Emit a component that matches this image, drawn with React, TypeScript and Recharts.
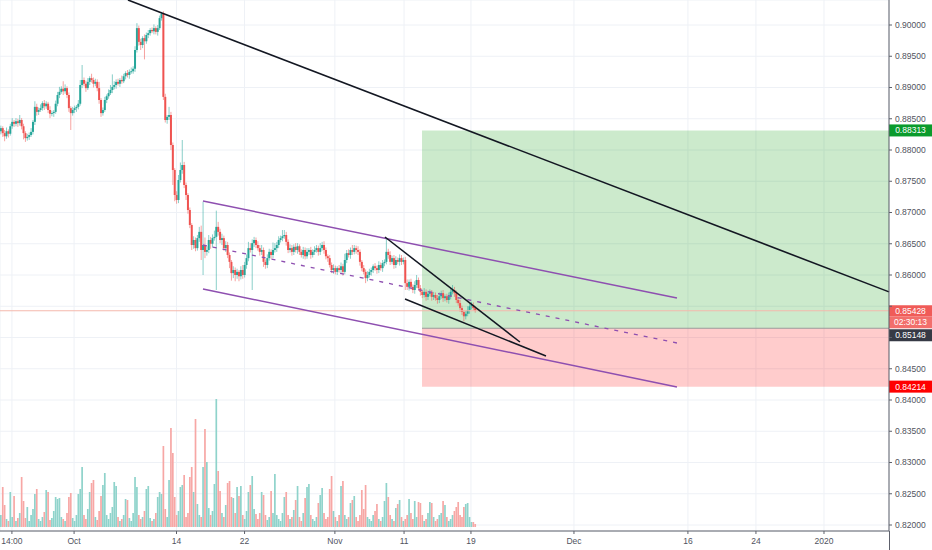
import React from 'react';
import { ComposedChart, Bar, XAxis, YAxis, CartesianGrid, ReferenceLine, ReferenceArea, Cell } from 'recharts';

// ---- data (4h candles, EURGBP-like) ----
const firstOpen = 0.883;
const closes = [
  0.8835, 0.8827, 0.8822, 0.8830, 0.8826, 0.8838, 0.8845, 0.8842, 0.8846, 0.8843,
  0.8848, 0.8838, 0.8827, 0.8819, 0.8821, 0.8824, 0.8829, 0.8845, 0.8869, 0.8861,
  0.8864, 0.8867, 0.8875, 0.8870, 0.8874, 0.8864, 0.8858, 0.8859, 0.8861, 0.8874,
  0.8888, 0.8893, 0.8898, 0.8894, 0.8899, 0.8888, 0.8867, 0.8859, 0.8864, 0.8867,
  0.8869, 0.8874, 0.8904, 0.8912, 0.8906, 0.8899, 0.8909, 0.8915, 0.8912, 0.8906,
  0.8909, 0.8899, 0.8880, 0.8859, 0.8864, 0.8880, 0.8886, 0.8891, 0.8896, 0.8901,
  0.8904, 0.8909, 0.8906, 0.8912, 0.8910, 0.8918, 0.8923, 0.8920, 0.8925, 0.8926,
  0.8930, 0.8960, 0.8995, 0.8973, 0.8968, 0.8979, 0.8974, 0.8984, 0.8987, 0.8992,
  0.8990, 0.8995, 0.8989, 0.8995, 0.9011, 0.9018, 0.8885, 0.8848, 0.8853, 0.8856,
  0.8808, 0.8768, 0.8728, 0.8720, 0.8752, 0.8768, 0.8776, 0.8744, 0.8728, 0.8704,
  0.8680, 0.8648, 0.8656, 0.8643, 0.8659, 0.8669, 0.8640, 0.8648, 0.8637, 0.8640,
  0.8656, 0.8650, 0.8659, 0.8661, 0.8677, 0.8669, 0.8656, 0.8659, 0.8643, 0.8648,
  0.8632, 0.8621, 0.8603, 0.8608, 0.8600, 0.8605, 0.8598, 0.8608, 0.8600, 0.8616,
  0.8627, 0.8643, 0.8640, 0.8651, 0.8656, 0.8648, 0.8643, 0.8637, 0.8640, 0.8621,
  0.8616, 0.8627, 0.8637, 0.8632, 0.8640, 0.8643, 0.8648, 0.8656, 0.8659, 0.8662,
  0.8664, 0.8653, 0.8640, 0.8643, 0.8637, 0.8645, 0.8640, 0.8646, 0.8637, 0.8632,
  0.8640, 0.8630, 0.8637, 0.8640, 0.8632, 0.8637, 0.8640, 0.8643, 0.8637, 0.8643,
  0.8648, 0.8640, 0.8630, 0.8627, 0.8616, 0.8608, 0.8611, 0.8605, 0.8611, 0.8608,
  0.8614, 0.8605, 0.8624, 0.8635, 0.8632, 0.8640, 0.8637, 0.8643, 0.8640, 0.8637,
  0.8621, 0.8611, 0.8605, 0.8595, 0.8600, 0.8605, 0.8608, 0.8614, 0.8611, 0.8608,
  0.8616, 0.8611, 0.8619, 0.8621, 0.8637, 0.8632, 0.8621, 0.8627, 0.8616, 0.8624,
  0.8621, 0.8627, 0.8621, 0.8624, 0.8587, 0.8581, 0.8589, 0.8581, 0.8576, 0.8584,
  0.8592, 0.8579, 0.8573, 0.8568, 0.8573, 0.8565, 0.8570, 0.8573, 0.8565, 0.8568,
  0.8563, 0.8560, 0.8566, 0.8571, 0.8563, 0.8566, 0.8560, 0.8566, 0.8573, 0.8576,
  0.8571, 0.8560, 0.8555, 0.8547, 0.8541, 0.8534, 0.8538, 0.8544, 0.8550, 0.8552,
  0.8547, 0.85428,
];
// wick lengths in pips above / below the candle body
const upperWicks = [
  4, 3, 5, 6, 3, 4, 6, 3, 5, 4, 8, 3, 4, 3, 5, 4, 6, 3, 9, 5,
  4, 6, 3, 5, 4, 3, 6, 4, 3, 5, 5, 8, 4, 12, 6, 3, 4, 3, 5, 4,
  3, 6, 8, 24, 4, 5, 6, 3, 7, 4, 5, 4, 10, 3, 4, 5, 3, 6, 8, 20,
  6, 4, 5, 3, 7, 4, 3, 5, 4, 6, 4, 6, 8, 4, 5, 3, 6, 4, 5, 3,
  4, 6, 3, 5, 4, 3, 4, 5, 3, 13, 5, 4, 3, 6, 8, 12, 40, 5, 4, 3,
  4, 3, 6, 4, 5, 8, 10, 69, 12, 6, 8, 5, 6, 10, 26, 8, 5, 7, 4, 6,
  5, 4, 3, 6, 4, 5, 3, 6, 8, 5, 6, 10, 8, 6, 5, 4, 6, 5, 8, 4,
  4, 6, 5, 4, 12, 8, 5, 6, 4, 10, 8, 5, 4, 6, 5, 4, 6, 5, 3, 4,
  5, 4, 6, 3, 5, 4, 6, 5, 4, 8, 5, 6, 4, 3, 5, 4, 6, 4, 3, 5,
  6, 4, 10, 5, 6, 4, 8, 5, 4, 6, 4, 3, 5, 4, 6, 5, 4, 3, 5, 4,
  6, 4, 5, 4, 22, 5, 6, 4, 5, 6, 4, 6, 5, 4, 5, 6, 4, 5, 4, 6,
  8, 4, 5, 3, 6, 4, 5, 4, 3, 5, 4, 5, 6, 4, 5, 3, 4, 6, 5, 8,
  5, 4, 3, 5, 4, 3, 5, 6, 4, 5, 4, 3,
];
const lowerWicks = [
  5, 6, 8, 4, 6, 3, 4, 5, 4, 6, 4, 5, 10, 6, 4, 5, 3, 4, 5, 6,
  5, 3, 4, 6, 4, 5, 7, 4, 6, 3, 4, 5, 3, 6, 4, 5, 6, 27, 4, 5,
  6, 4, 3, 5, 4, 6, 3, 5, 4, 6, 4, 5, 6, 6, 4, 3, 5, 4, 3, 5,
  4, 6, 3, 5, 4, 3, 5, 4, 6, 3, 4, 5, 4, 6, 8, 5, 29, 4, 5, 4,
  3, 5, 4, 6, 3, 4, 5, 4, 6, 5, 8, 24, 10, 6, 5, 4, 6, 5, 8, 6,
  5, 8, 6, 5, 4, 6, 16, 40, 10, 6, 5, 8, 6, 4, 85, 6, 5, 8, 4, 6,
  5, 10, 12, 8, 10, 6, 8, 5, 6, 4, 6, 5, 4, 64, 6, 5, 4, 6, 5, 8,
  6, 5, 4, 6, 5, 4, 6, 5, 4, 5, 4, 6, 5, 4, 6, 5, 4, 6, 5, 4,
  6, 5, 4, 5, 6, 4, 5, 4, 6, 5, 4, 6, 5, 6, 4, 5, 6, 4, 5, 4,
  5, 6, 4, 5, 4, 6, 5, 4, 6, 5, 6, 5, 4, 8, 5, 4, 6, 5, 4, 6,
  5, 4, 6, 5, 4, 6, 5, 4, 6, 5, 4, 6, 5, 4, 11, 5, 6, 4, 5, 6,
  5, 4, 6, 5, 4, 6, 5, 4, 6, 5, 4, 6, 5, 4, 6, 5, 4, 6, 5, 4,
  6, 5, 4, 6, 5, 8, 5, 4, 6, 5, 4, 3,
];
const volumes = [
  12, 40, 22, 8, 6, 35, 10, 31, 6, 9, 14, 50, 26, 9, 20, 6, 12, 18, 33, 38,
  8, 6, 10, 15, 37, 35, 7, 9, 16, 30, 28, 29, 10, 8, 6, 14, 30, 34, 9, 6,
  12, 33, 38, 60, 12, 8, 18, 35, 44, 47, 10, 7, 16, 31, 42, 54, 12, 8, 14, 20,
  45, 41, 10, 6, 8, 12, 28, 27, 9, 6, 14, 50, 40, 12, 8, 10, 16, 38, 41, 9,
  6, 8, 14, 30, 35, 33, 81, 18, 10, 47, 99, 74, 30, 12, 16, 40, 42, 52, 10, 14,
  50, 60, 35, 108, 23, 12, 10, 60, 98, 65, 19, 12, 16, 43, 128, 56, 36, 14, 10, 22,
  44, 46, 30, 29, 14, 40, 31, 41, 12, 8, 16, 35, 42, 51, 18, 13, 8, 14, 35, 32,
  12, 7, 10, 36, 14, 53, 12, 8, 6, 14, 30, 35, 12, 8, 10, 17, 27, 41, 10, 6,
  14, 29, 40, 43, 12, 8, 6, 10, 24, 32, 39, 14, 8, 10, 38, 51, 16, 10, 6, 12,
  41, 46, 12, 8, 10, 24, 27, 31, 10, 6, 12, 37, 18, 42, 10, 8, 6, 12, 16, 23,
  8, 6, 10, 26, 44, 30, 12, 8, 6, 19, 23, 27, 10, 6, 8, 12, 28, 14, 8, 26,
  10, 25, 24, 12, 6, 8, 14, 25, 24, 10, 6, 8, 12, 14, 26, 22, 10, 6, 8, 12,
  16, 20, 25, 12, 10, 20, 23, 24, 10, 5, 5, 3,
];
const xTickValues = [6.3, 39.2, 93.4, 129.4, 177.2, 213.8, 249.2, 303.7, 364, 400, 436];
const xTickLabels = ['14:00', 'Oct', '14', '22', 'Nov', '11', '19', 'Dec', '16', '24', '2020'];
const priceTicks = [0.82, 0.825, 0.83, 0.835, 0.84, 0.845, 0.85, 0.855, 0.86, 0.865, 0.87, 0.875, 0.88, 0.885, 0.89, 0.895, 0.9];

// drawings (bar index, price)
const trendLine = [{ x: 67.7, y: 0.904 }, { x: 470.4, y: 0.8573 }];
const channelUpper = [{ x: 107.4, y: 0.87184 }, { x: 358.2, y: 0.85632 }];
const channelMid = [{ x: 107.4, y: 0.8648 }, { x: 358.2, y: 0.84912 }];
const channelLower = [{ x: 107.4, y: 0.85776 }, { x: 358.2, y: 0.84208 }];
const wedgeUpper = [{ x: 203.7, y: 0.86608 }, { x: 275.1, y: 0.84928 }];
const wedgeLower = [{ x: 214.3, y: 0.85616 }, { x: 288.9, y: 0.84704 }];
const position = { start: 223.3, end: 470.4, target: 0.88313, entry: 0.85148, stop: 0.84214 };
const lastPrice = 0.85428;
const countdown = '02:30:13';
// axis labels that sit under the price badges in the reference
const coveredTicks = [0.855, 0.85];

const PIP = 0.0001;
const UP = '#26a69a';
const DOWN = '#ef5350';
const VOL_UP = '#8fd3cb';
const VOL_DOWN = '#f7a7a5';
const TEXT = '#50535e';
const AXIS = '#5d606b';
const FONT = 8.5;

const data = closes.map((c, i) => {
  const o = i === 0 ? firstOpen : closes[i - 1];
  const h = Math.max(o, c) + upperWicks[i] * PIP;
  const l = Math.min(o, c) - lowerWicks[i] * PIP;
  return { t: i + 0.5, o, h, l, c, range: [l, h], v: volumes[i], up: c >= o };
});

const Candle = (props: any) => {
  const { x, y, width, height, payload } = props;
  if (!payload) return null;
  const { o, h, l, c } = payload;
  const top = Math.min(y, y + height);
  const hh = Math.abs(height);
  const cx = x + width / 2;
  const ppu = hh / (h - l);
  const yO = top + (h - o) * ppu;
  const yC = top + (h - c) * ppu;
  const bt = Math.min(yO, yC);
  const bh = Math.max(Math.abs(yO - yC), 0.9);
  const col = c >= o ? UP : DOWN;
  return (
    <g>
      <line x1={cx} x2={cx} y1={top} y2={top + hh} stroke={col} strokeWidth={0.9} strokeOpacity={0.6} />
      <rect x={cx - 1} y={bt} width={2} height={bh} fill={col} />
    </g>
  );
};

const PriceTick = (props: any) => {
  const { x, y, payload } = props;
  if (coveredTicks.some((v) => Math.abs(v - payload.value) < 1e-9)) return null;
  return (
    <text x={x} y={y} dy="0.35em" textAnchor="start" fontSize={FONT} fill={TEXT}>
      {Number(payload.value).toFixed(5)}
    </text>
  );
};

const Badge = (props: any) => {
  const { viewBox, text, bg, dy = 0 } = props;
  if (!viewBox) return null;
  const bx = viewBox.x + viewBox.width;
  const cy = viewBox.y + dy;
  return (
    <g>
      <rect x={bx} y={cy - 6} width={43} height={12} fill={bg} />
      <text x={bx + 21.5} y={cy} dy="0.35em" textAnchor="middle" fill="#ffffff" fontSize={FONT}>{text}</text>
    </g>
  );
};

const LastBadge = (props: any) => {
  const { viewBox } = props;
  if (!viewBox) return null;
  const bx = viewBox.x + viewBox.width;
  const cy = viewBox.y;
  return (
    <g>
      <rect x={bx} y={cy - 5.5} width={43} height={11} fill="#f05b58" />
      <text x={bx + 21.5} y={cy} dy="0.35em" textAnchor="middle" fill="#ffffff" fontSize={FONT}>{lastPrice.toFixed(5)}</text>
      <rect x={bx} y={cy + 5.5} width={43} height={12} fill="#f26f6c" />
      <text x={bx + 21.5} y={cy + 11.5} dy="0.35em" textAnchor="middle" fill="#ffffff" fontSize={FONT}>{countdown}</text>
    </g>
  );
};

export default function App() {
  return (
    <div style={{ position: 'relative', width: 932, height: 550, fontFamily: '"Liberation Sans", Arial, sans-serif', background: '#fff' }}>
      <style>{'body{margin:0;background:#fff}'}</style>
      <ComposedChart width={932} height={550} data={data} margin={{ top: 0, right: 0, bottom: 0, left: 0 }}>
        <CartesianGrid xAxisId="main" yAxisId="price" stroke="#eef1f6" strokeWidth={1} />
        <XAxis
          xAxisId="main"
          dataKey="t"
          type="number"
          domain={[0, 470.4]}
          allowDataOverflow
          ticks={xTickValues}
          interval={0}
          tickFormatter={(v: number) => xTickLabels[xTickValues.indexOf(v)]}
          height={19}
          tickSize={3}
          tickMargin={4}
          tick={{ fontSize: FONT, fill: TEXT }}
          axisLine={{ stroke: AXIS }}
          tickLine={{ stroke: AXIS }}
        />
        <XAxis xAxisId="vol" dataKey="t" type="number" domain={[0, 470.4]} allowDataOverflow hide />
        <YAxis
          yAxisId="price"
          orientation="right"
          domain={[0.81904, 0.904]}
          allowDataOverflow
          ticks={priceTicks}
          interval={0}
          width={43}
          tickSize={3}
          tickMargin={3}
          tick={<PriceTick />}
          axisLine={{ stroke: AXIS }}
          tickLine={{ stroke: AXIS }}
        />
        <YAxis yAxisId="vol" domain={[-4, 527]} allowDataOverflow hide />

        <ReferenceArea xAxisId="main" yAxisId="price" x1={position.start} x2={position.end} y1={position.entry} y2={position.target} fill="#009600" fillOpacity={0.2} stroke="none" />
        <ReferenceArea xAxisId="main" yAxisId="price" x1={position.start} x2={position.end} y1={position.stop} y2={position.entry} fill="#ff0000" fillOpacity={0.2} stroke="none" />

        <Bar xAxisId="vol" yAxisId="vol" dataKey="v" barSize={1.7} isAnimationActive={false}>
          {data.map((d, i) => (
            <Cell key={i} fill={d.up ? VOL_UP : VOL_DOWN} />
          ))}
        </Bar>
        <Bar xAxisId="main" yAxisId="price" dataKey="range" barSize={2} shape={Candle} isAnimationActive={false} />

        <ReferenceLine xAxisId="main" yAxisId="price" y={lastPrice} stroke="#f4b8ad" strokeWidth={1} label={<LastBadge />} />
        <ReferenceLine xAxisId="main" yAxisId="price" segment={[{ x: position.start, y: position.entry }, { x: position.end, y: position.entry }]} stroke="#9a9a9a" strokeWidth={1} />

        <ReferenceLine xAxisId="main" yAxisId="price" segment={channelUpper} stroke="#8e4fb0" strokeWidth={1.5} />
        <ReferenceLine xAxisId="main" yAxisId="price" segment={channelMid} stroke="#8e4fb0" strokeWidth={1.3} strokeDasharray="4 6" />
        <ReferenceLine xAxisId="main" yAxisId="price" segment={channelLower} stroke="#8e4fb0" strokeWidth={1.5} />
        <ReferenceLine xAxisId="main" yAxisId="price" segment={wedgeUpper} stroke="#131722" strokeWidth={1.5} />
        <ReferenceLine xAxisId="main" yAxisId="price" segment={wedgeLower} stroke="#131722" strokeWidth={1.5} />
        <ReferenceLine xAxisId="main" yAxisId="price" segment={trendLine} stroke="#131722" strokeWidth={1.6} />

        <ReferenceLine xAxisId="main" yAxisId="price" y={position.target} stroke="none" label={<Badge text={position.target.toFixed(5)} bg="#0a9b2c" />} />
        <ReferenceLine xAxisId="main" yAxisId="price" y={position.entry} stroke="none" label={<Badge text={position.entry.toFixed(5)} bg="#363a45" dy={7} />} />
        <ReferenceLine xAxisId="main" yAxisId="price" y={position.stop} stroke="none" label={<Badge text={position.stop.toFixed(5)} bg="#ff0000" />} />
      </ComposedChart>
      <div style={{ position: 'absolute', left: 889, top: 531, width: 1, height: 19, background: AXIS }} />
    </div>
  );
}
